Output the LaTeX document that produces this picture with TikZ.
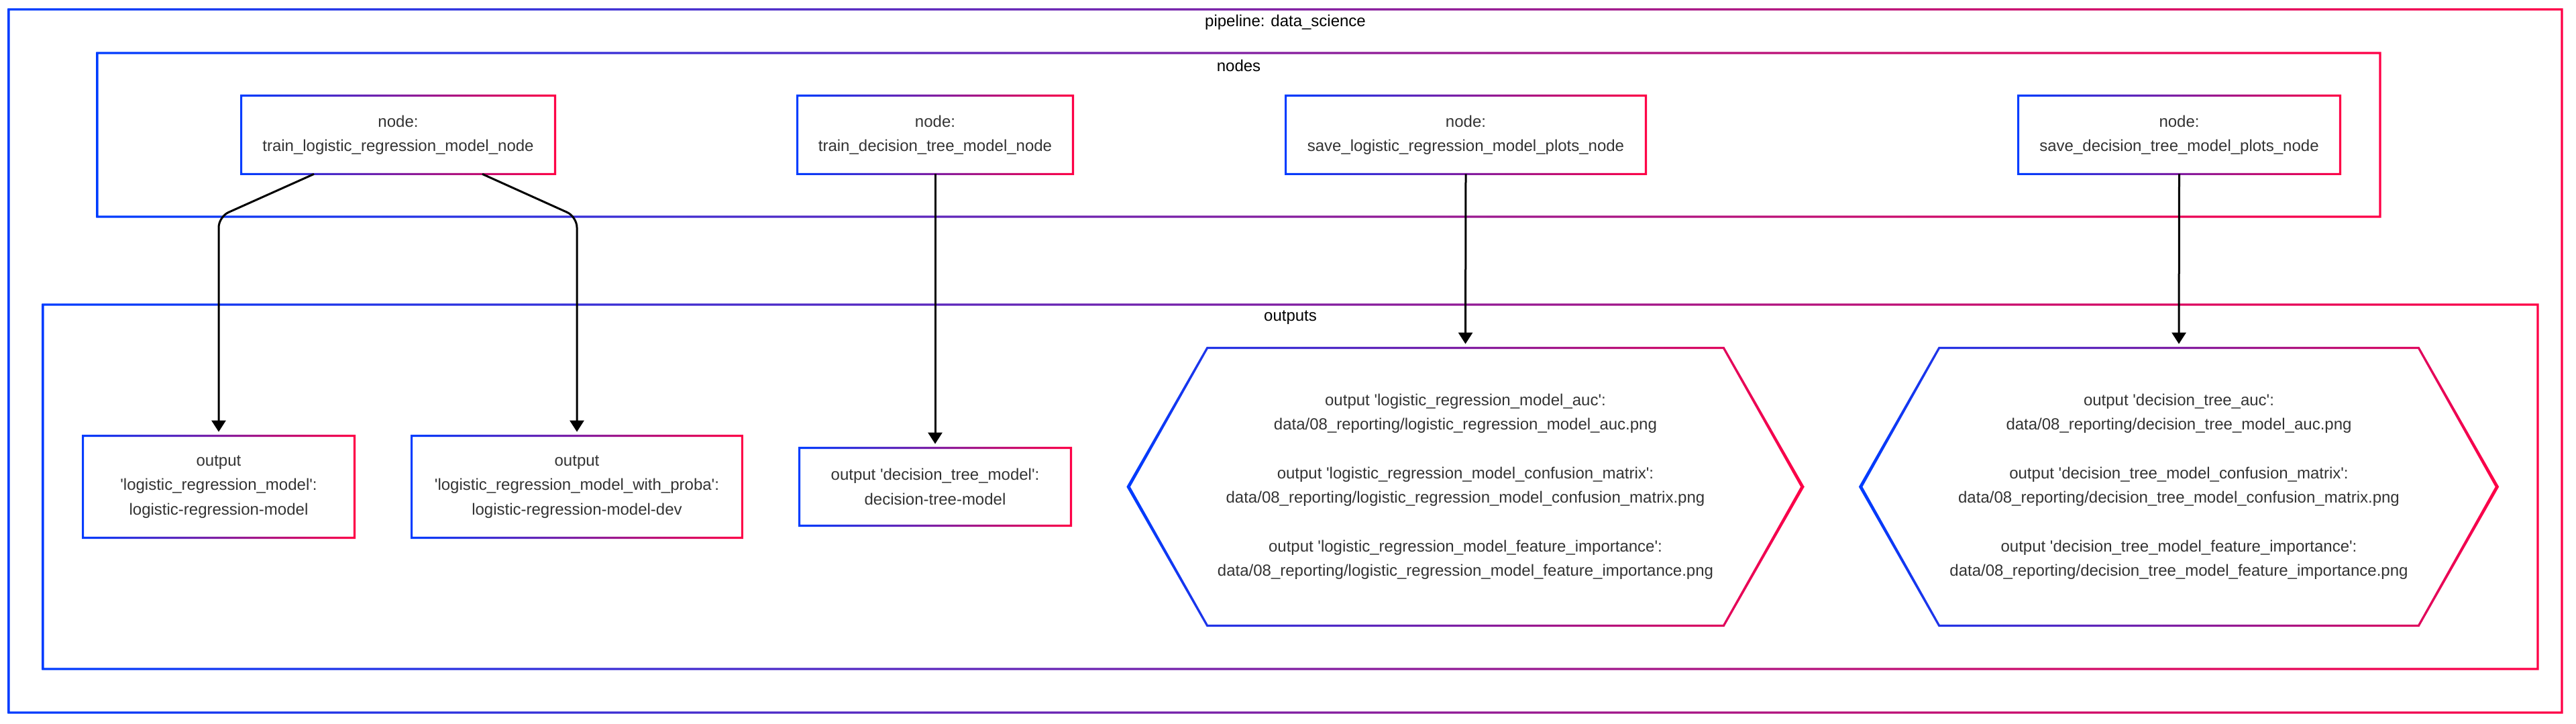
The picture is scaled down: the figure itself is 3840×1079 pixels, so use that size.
\documentclass[tikz,border=0pt]{standalone}
\usepackage{fontspec}
\setmainfont{Liberation Sans}
\usetikzlibrary{calc,arrows.meta}
\definecolor{cblue}{RGB}{0,60,255}
\definecolor{cred}{RGB}{255,0,70}
\definecolor{txt}{HTML}{333333}
\newcommand\q{\textquotesingle}
\newcommand\hw{1.6}
\newcommand\gbox[2]{\shade[gshade] ($(#1)+(-\hw,-\hw)$) rectangle ($(#2)+(\hw,\hw)$) ($(#1)+(\hw,\hw)$) rectangle ($(#2)+(-\hw,-\hw)$);}
\newcommand\ghex[2]{\shade[gshade] ($(#1.north west)+(-0.93,-1.6)$) -- ($(#1.north east)+(0.93,-1.6)$) -- ($(#1.east)+(#2+2.76,0)$) -- ($(#1.south east)+(0.93,1.6)$) -- ($(#1.south west)+(-0.93,1.6)$) -- ($(#1.west)+(-#2-2.76,0)$) -- cycle ($(#1.north west)+(0.93,1.6)$) -- ($(#1.north east)+(-0.93,1.6)$) -- ($(#1.east)+(#2-2.76,0)$) -- ($(#1.south east)+(-0.93,-1.6)$) -- ($(#1.south west)+(0.93,-1.6)$) -- ($(#1.west)+(-#2+2.76,0)$) -- cycle;}
\tikzset{
 lbl/.style={font=\fontsize{12}{18.15}\selectfont, text=txt, align=center, inner sep=0pt},
 clbl/.style={font=\fontsize{12}{14}\selectfont, text=black, inner sep=0pt},
 arr/.style={line width=1.5pt, draw=black, -{Triangle[length=8.5pt,width=10.5pt]}, shorten >=3pt, rounded corners=8pt},
 gshade/.style={left color=cblue, right color=cred, even odd rule}
}
\begin{document}
\begin{tikzpicture}[x=0.5pt,y=-0.5pt]
\fill[white] (0,0) rectangle (3840,1079);
\useasboundingbox (0,0) rectangle (3840,1079);
% clusters
\coordinate (pipenw) at (13,14);
\coordinate (pipese) at (3819,1062);
\coordinate (nodesnw) at (145,79);
\coordinate (nodesse) at (3548,323);
\coordinate (outnw) at (64,454);
\coordinate (outse) at (3783,997);
\gbox{pipenw}{pipese}
\gbox{nodesnw}{nodesse}
\gbox{outnw}{outse}
\node[clbl] (pipelbl) at (1916,33) {pipeline: data\_science};
\node[clbl] (nodeslbl) at (1846.5,98) {nodes};
\node[clbl] (outlbl) at (1923.5,473) {outputs};
% nodes
\node[lbl, minimum width=233.5pt, minimum height=58pt] (trainlr) at (593.5,201) {node:\\train\_logistic\_regression\_model\_node};
\node[lbl, minimum width=205pt, minimum height=58pt] (traindt) at (1394,201) {node:\\train\_decision\_tree\_model\_node};
\node[lbl, minimum width=268pt, minimum height=58pt] (savelr) at (2185,201) {node:\\save\_logistic\_regression\_model\_plots\_node};
\node[lbl, minimum width=239.5pt, minimum height=58pt] (savedt) at (3248.5,201) {node:\\save\_decision\_tree\_model\_plots\_node};
\node[lbl, minimum width=202pt, minimum height=75.5pt] (olr) at (326,725.5) {output\\\q logistic\_regression\_model\q:\\logistic-regression-model};
\node[lbl, minimum width=246pt, minimum height=75.5pt] (olrp) at (860,725.5) {output\\\q logistic\_regression\_model\_with\_proba\q:\\logistic-regression-model-dev};
\node[lbl, minimum width=202pt, minimum height=57.5pt] (odt) at (1394,725.5) {output \q decision\_tree\_model\q:\\decision-tree-model};
\node[lbl, minimum width=384.5pt, minimum height=206.5pt] (hlr) at (2184.5,725.5) {output \q logistic\_regression\_model\_auc\q:\\data/08\_reporting/logistic\_regression\_model\_auc.png\\[18.15pt]output \q logistic\_regression\_model\_confusion\_matrix\q:\\data/08\_reporting/logistic\_regression\_model\_confusion\_matrix.png\\[18.15pt]output \q logistic\_regression\_model\_feature\_importance\q:\\data/08\_reporting/logistic\_regression\_model\_feature\_importance.png};
\node[lbl, minimum width=357pt, minimum height=206.5pt] (hdt) at (3248,725.5) {output \q decision\_tree\_auc\q:\\data/08\_reporting/decision\_tree\_model\_auc.png\\[18.15pt]output \q decision\_tree\_model\_confusion\_matrix\q:\\data/08\_reporting/decision\_tree\_model\_confusion\_matrix.png\\[18.15pt]output \q decision\_tree\_model\_feature\_importance\q:\\data/08\_reporting/decision\_tree\_model\_feature\_importance.png};
% frames
\gbox{trainlr.north west}{trainlr.south east}
\gbox{traindt.north west}{traindt.south east}
\gbox{savelr.north west}{savelr.south east}
\gbox{savedt.north west}{savedt.south east}
\gbox{olr.north west}{olr.south east}
\gbox{olrp.north west}{olrp.south east}
\gbox{odt.north west}{odt.south east}
\ghex{hlr}{117.5}
\ghex{hdt}{117}
% connectors
\draw[arr] ($(trainlr.south)+(-125.5,0)$) -- (olr.north |- nodesse) -- (olr.north);
\draw[arr] ($(trainlr.south)+(125.5,0)$) -- (olrp.north |- nodesse) -- (olrp.north);
\draw[arr] (traindt.south) -- (odt.north);
\draw[arr] (savelr.south) -- (hlr.north);
\draw[arr] (savedt.south) -- (hdt.north);
\end{tikzpicture}
\end{document}
